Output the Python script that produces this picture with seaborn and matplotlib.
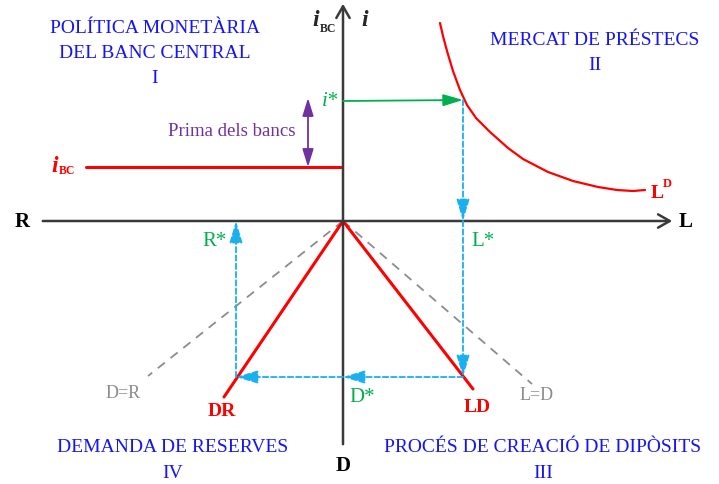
import matplotlib
matplotlib.use("Agg")
import matplotlib.pyplot as plt
import seaborn as sns
import numpy as np
import pandas as pd

# ---- data (offsets from the origin of the four-quadrant diagram) ----
ibc_level = 54
istar = 121
ld_curve_x = [97, 100, 104, 110, 117, 124, 133, 147, 165, 180, 205, 230, 255, 274, 290, 302]
ld_curve_y = [198, 185, 170, 150, 131, 116, 103, 89, 73, 62, 49, 40, 34, 31, 30, 31]
Lstar = 120
Dstar = -156
Rstar = -107
ld_line_end = (130, -168)      # L -> D (LD)
dr_line_end = (-119, -176)     # D -> R (DR)
ld45_end = (189, -163)         # L = D
dr45_end = (-195, -155)        # D = R
ibc_start = -257

quad_titles = ["POLÍTICA MONETÀRIA\nDEL BANC CENTRAL\nI",
               "MERCAT DE PRÉSTECS\nII",
               "PROCÉS DE CREACIÓ DE DIPÒSITS\nIII",
               "DEMANDA DE RESERVES\nIV"]
title_anchor = [(-188, 194), (252, 182), (200, -226), (-170, -226)]

sns.set_theme(style="white")
serif = ["Liberation Serif", "DejaVu Serif"]
plt.rcParams['font.family'] = serif

fig = plt.figure(figsize=(7.19, 4.85), dpi=100)
ax = fig.add_axes([0, 0, 1, 1])
ax.set_xlim(-343, 376)
ax.set_ylim(-263, 222)
ax.axis("off")

RED = "#FF0000"
BLUE_D = "#1AAFEF"
GREEN = "#00B050"
PURPLE = "#7030A0"
GRAY = "#8C8C8C"
AXC = "#3A3A3A"
TBLUE = "#1414F5"

# axes
ax.annotate("", xy=(0, 220), xytext=(0, -226),
            arrowprops=dict(arrowstyle="->,head_length=0.7,head_width=0.4", color=AXC, lw=1.8))
ax.annotate("", xy=(332, 0), xytext=(-303, 0),
            arrowprops=dict(arrowstyle="->,head_length=0.7,head_width=0.4", color=AXC, lw=1.8))

# 45 degree dashed references
sns.lineplot(x=[0, ld45_end[0]], y=[0, ld45_end[1]], ax=ax, color=GRAY, lw=1.3,
             linestyle=(0, (5, 4)), sort=False)
sns.lineplot(x=[0, dr45_end[0]], y=[0, dr45_end[1]], ax=ax, color=GRAY, lw=1.3,
             linestyle=(0, (5, 4)), sort=False)

# red lines
sns.lineplot(x=[0, ld_line_end[0]], y=[0, ld_line_end[1]], ax=ax, color=RED, lw=2.2, sort=False)
sns.lineplot(x=[0, dr_line_end[0]], y=[0, dr_line_end[1]], ax=ax, color=RED, lw=2.2, sort=False)
sns.lineplot(x=[ibc_start, -2], y=[ibc_level, ibc_level], ax=ax, color=RED, lw=2.2, sort=False)

# loan demand curve
curve = pd.DataFrame({"L": ld_curve_x, "i": ld_curve_y})
sns.lineplot(data=curve, x="L", y="i", ax=ax, color=RED, lw=1.6, sort=False)

# green arrow i*
ax.annotate("", xy=(Lstar, istar), xytext=(0, istar - 1),
            arrowprops=dict(arrowstyle="-|>,head_length=1.0,head_width=0.3", color=GREEN, lw=1.3,
                            shrinkA=0, shrinkB=0))

# purple double arrow
ax.annotate("", xy=(-35, istar + 2), xytext=(-35, ibc_level),
            arrowprops=dict(arrowstyle="<|-|>,head_length=0.9,head_width=0.28", color=PURPLE, lw=1.3,
                            shrinkA=0, shrinkB=0))

# blue dashed arrows
def barrow(p0, p1):
    ax.annotate("", xy=p1, xytext=p0,
                arrowprops=dict(arrowstyle="-|>,head_length=1.1,head_width=0.33", color=BLUE_D, lw=1.3,
                                linestyle=(0, (3, 1.6)), shrinkA=0, shrinkB=0))

barrow((Lstar, istar), (Lstar, 0))
barrow((Lstar, 0), (Lstar, Dstar))
barrow((Lstar, Dstar), (0, Dstar))
barrow((0, Dstar), (Rstar, Dstar))
barrow((Rstar, Dstar), (Rstar, 0))

# axis labels
ax.text(0, -244, "D", fontsize=15, fontweight="bold", ha="center", va="center", color="black")
ax.text(-321, 0, "R", fontsize=15, fontweight="bold", ha="center", va="center", color="black")
ax.text(343, 0, "L", fontsize=15, fontweight="bold", ha="center", va="center", color="black")
ax.text(22, 202, "i", fontsize=17, fontweight="bold", style="italic", ha="center", va="center")
ax.text(-27, 202, "i", fontsize=17, fontweight="bold", style="italic", ha="center", va="center")
ax.text(-23, 193, "BC", fontsize=8.5, fontweight="bold", ha="left", va="center")
ax.text(-288, 55, "i", fontsize=17, fontweight="bold", style="italic", ha="center", va="center", color=RED)
ax.text(-284, 51, "BC", fontsize=8.5, fontweight="bold", ha="left", va="center", color=RED)
ax.text(314, 29, "L", fontsize=14, fontweight="bold", ha="center", va="center", color=RED)
ax.text(320, 38, "D", fontsize=9, fontweight="bold", ha="left", va="center", color=RED)
ax.text(134, -185, "LD", fontsize=14, fontweight="bold", ha="center", va="center", color=RED)
ax.text(-121, -190, "DR", fontsize=14, fontweight="bold", ha="center", va="center", color=RED)
ax.text(194, -173, "L=D", fontsize=13, ha="center", va="center", color=GRAY)
ax.text(-220, -171, "D=R", fontsize=13, ha="center", va="center", color=GRAY)

ax.text(-13, 121, "i*", fontsize=15, style="italic", ha="center", va="center", color=GREEN)
ax.text(140, -19, "L*", fontsize=15, ha="center", va="center", color=GREEN)
ax.text(-128, -19, "R*", fontsize=15, ha="center", va="center", color=GREEN)
ax.text(19, -176, "D*", fontsize=15, ha="center", va="center", color=GREEN)
ax.text(-111, 91, "Prima dels bancs", fontsize=13.5, ha="center", va="center", color=PURPLE)

# quadrant titles (one text per line)
for title, (tx, ty) in zip(quad_titles, title_anchor):
    for k, line in enumerate(title.split("\n")):
        ax.text(tx, ty - 25 * k, line, fontsize=14, ha="center", va="center", color=TBLUE)

fig.savefig("out.png", dpi=100)
